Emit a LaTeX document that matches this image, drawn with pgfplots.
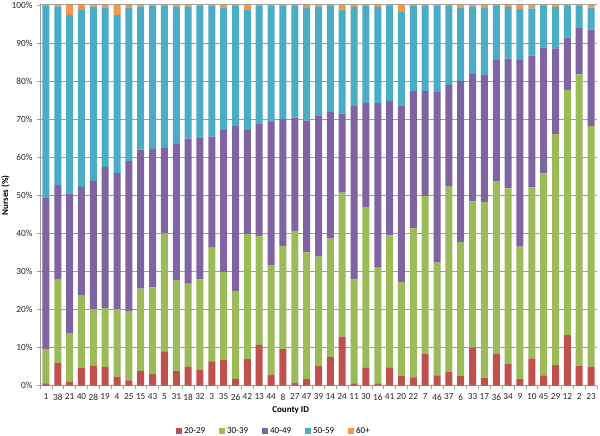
\documentclass[border=0pt]{standalone}
\usepackage{pgfplots}
\usepackage{pgfplotstable}
\pgfplotsset{compat=1.18}
\usepackage{fontspec}
\setmainfont{Carlito}
\definecolor{cA}{HTML}{C0504D}
\definecolor{cB}{HTML}{9BBB59}
\definecolor{cC}{HTML}{8064A2}
\definecolor{cD}{HTML}{4BACC6}
\definecolor{cE}{HTML}{F79646}
\pgfplotstableread{
id r g p c o
1 0.6 9.0 39.9 50.3 0.2
38 5.9 22.1 24.7 46.9 0.4
21 1.0 12.7 36.8 46.9 2.6
40 4.6 19.2 28.4 46.5 1.3
28 5.2 14.9 33.7 45.8 0.4
19 4.9 15.5 37.1 41.9 0.6
4 2.4 17.7 35.8 41.5 2.6
25 1.4 18.2 39.4 40.4 0.6
15 3.8 21.7 36.5 37.6 0.4
43 3.2 22.6 36.4 37.5 0.3
5 9.0 31.0 22.6 37.2 0.2
31 3.8 23.8 35.9 36.1 0.4
18 5.0 21.8 38.1 34.7 0.4
32 4.2 23.7 37.3 34.6 0.2
3 6.4 29.9 29.1 34.3 0.3
35 6.8 23.0 37.4 32.2 0.6
26 1.8 23.1 43.5 31.4 0.2
42 7.0 32.8 27.4 31.6 1.2
13 10.7 28.6 29.4 31.0 0.3
44 2.9 28.8 37.6 30.5 0.2
8 9.6 27.1 33.3 29.8 0.2
27 0.8 39.9 29.7 29.4 0.2
47 1.7 33.3 34.6 29.6 0.8
39 5.3 28.6 37.1 28.6 0.4
14 7.6 31.0 33.3 27.9 0.2
24 12.9 37.8 20.8 27.3 1.2
11 0.6 27.3 45.6 26.0 0.5
30 4.7 42.3 27.3 25.5 0.2
16 0.6 30.4 43.2 25.3 0.5
41 4.8 34.7 35.3 25.0 0.2
20 2.5 24.8 46.3 24.6 1.8
22 2.2 39.1 36.1 22.4 0.2
7 8.3 41.5 27.6 22.4 0.2
46 2.7 29.6 44.9 22.5 0.3
37 3.7 48.6 26.7 20.8 0.2
6 2.5 35.3 42.3 19.3 0.6
33 10.0 38.4 33.5 17.7 0.4
17 2.1 46.2 33.3 17.8 0.6
36 8.4 45.2 32.0 14.2 0.2
34 5.8 46.0 34.1 13.6 0.5
9 1.7 34.8 49.1 13.4 1.0
10 7.2 44.9 34.6 12.4 0.9
45 2.7 53.1 33.0 11.0 0.2
29 5.4 60.7 22.5 10.9 0.5
12 13.3 64.4 13.7 8.4 0.2
2 5.3 76.5 12.2 5.8 0.2
23 5.0 63.2 25.3 5.8 0.7
}\data
\begin{document}
\begin{tikzpicture}
\path[use as bounding box] (-40pt,-50.3pt) rectangle (560pt,385.7pt);
\begin{axis}[
  at={(0,0)}, anchor=south west,
  scale only axis, width=557pt, height=380.7pt,
  ybar stacked, bar width=7pt,
  xmin=-0.5, xmax=46.5, ymin=0, ymax=100,
  xtick=data,
  xticklabels from table={\data}{id},
  minor xtick={-0.5,0.5,...,46.5},
  ytick={0,10,...,100},
  yticklabel={\pgfmathprintnumber[assume math mode=true]{\tick}\%},
  axis x line*=bottom, axis y line*=left,
  axis line style={gray!75, line width=0.9pt},
  x axis line style={-}, y axis line style={-},
  major x tick style={draw=none},
  minor x tick style={gray!75, line width=0.6pt},
  major y tick style={gray!75, line width=0.6pt},
  tick align=outside,
  major tick length=3pt, minor tick length=3pt,
  ymajorgrids, grid style={gray!75, line width=1pt},
  tick label style={font=\fontsize{9.3}{10}\selectfont, text=black!85},
  yticklabel style={xshift=-1pt},
  xticklabel style={yshift=-1.5pt},
  xlabel={\textbf{County ID}},
  ylabel={\textbf{Nurses (\%)}},
  label style={font=\fontsize{9}{10}\selectfont},
  xlabel style={at={(axis description cs:0.45,-0.064)}, anchor=center},
  ylabel style={at={(axis description cs:-0.062,0.5)}, anchor=center},
  legend style={at={(axis description cs:0.42,-0.119)}, anchor=center,
    draw=none, fill=none, legend columns=-1,
    font=\fontsize{9}{10}\selectfont,
    /tikz/every even column/.append style={column sep=12pt}},
  legend image code/.code={\fill[#1] (0pt,-3pt) rectangle (6pt,3pt);},
  enlargelimits=false, clip=false,
]
\addplot[fill=cA, draw=none] table[x expr=\coordindex, y=r] {\data};
\addplot[fill=cB, draw=none] table[x expr=\coordindex, y=g] {\data};
\addplot[fill=cC, draw=none] table[x expr=\coordindex, y=p] {\data};
\addplot[fill=cD, draw=none] table[x expr=\coordindex, y=c] {\data};
\addplot[fill=cE, draw=none] table[x expr=\coordindex, y=o] {\data};
\legend{20-29,30-39,40-49,50-59,60+}
\end{axis}
\end{tikzpicture}
\end{document}
